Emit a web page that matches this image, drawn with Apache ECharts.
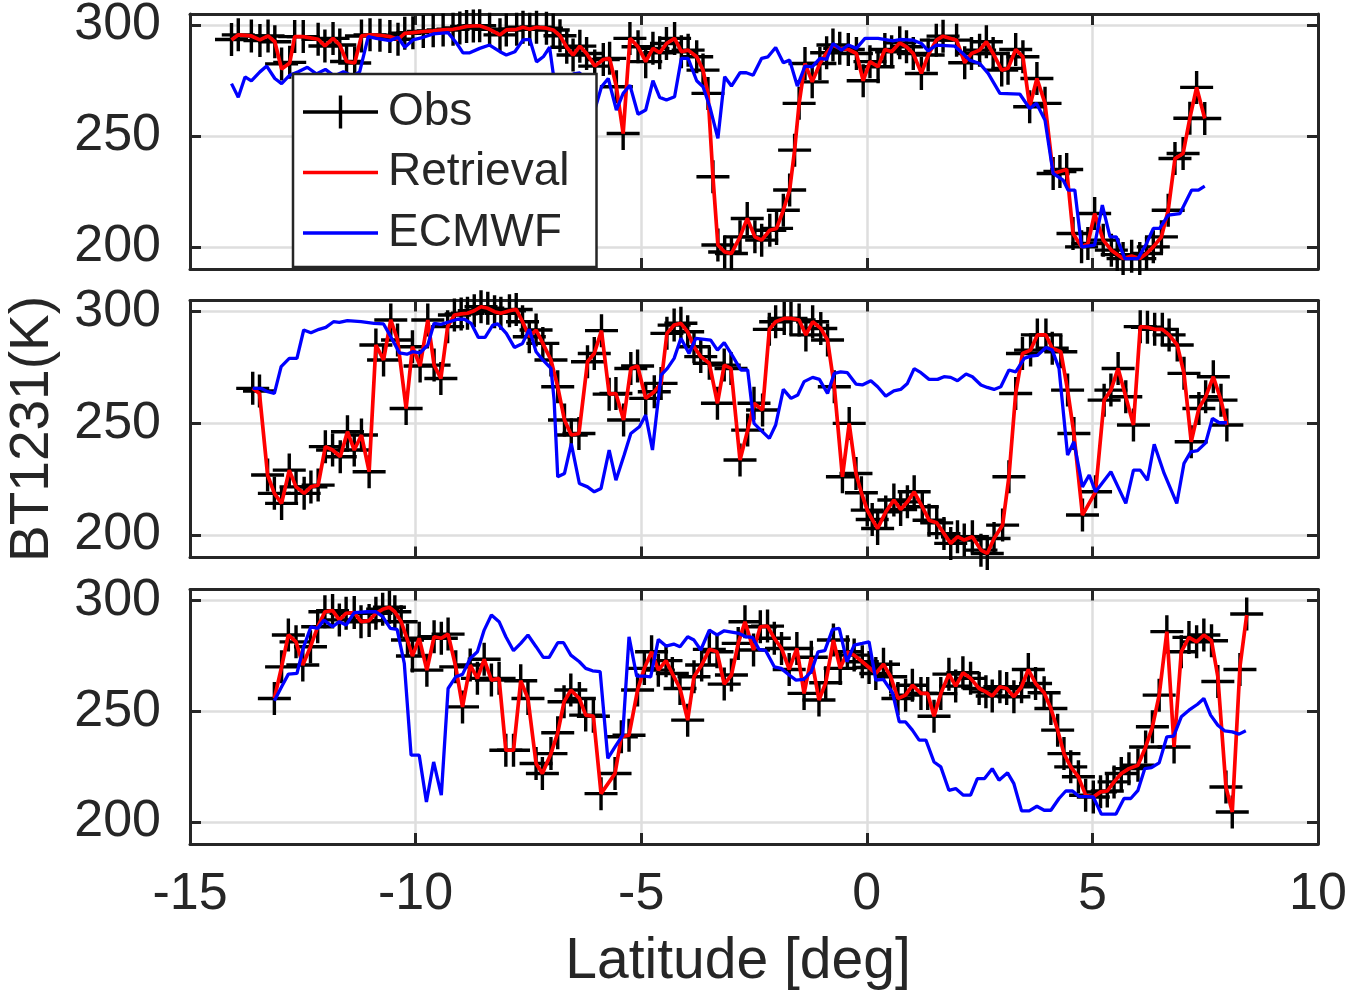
<!DOCTYPE html>
<html>
<head>
<meta charset="utf-8">
<script src="https://cdn.jsdelivr.net/npm/echarts@6/dist/echarts.min.js"></script>
<style>
html,body{margin:0;padding:0;background:#fff;}
#chart{width:1355px;height:996px;}
</style>
</head>
<body>
<div id="chart"></div>
<script>
// ---------- data ----------
const xTicks = [-15, -10, -5, 0, 5, 10];
const yTicks = [200, 250, 300];

// Panel 1
const lat1 = [-14.08,-13.93,-13.64,-13.45,-13.27,-13.12,-12.97,-12.79,-12.68,-12.49,-12.16,-12.01,-11.83,-11.68,-11.53,-11.35,-11.20,-11.01,-10.79,-10.57,-10.39,-10.24,-10.06,-9.83,-9.61,-9.39,-9.17,-9.02,-8.87,-8.72,-8.58,-8.36,-8.13,-7.99,-7.76,-7.62,-7.47,-7.32,-7.10,-6.95,-6.80,-6.65,-6.51,-6.36,-6.21,-6.03,-5.84,-5.70,-5.55,-5.40,-5.25,-5.07,-4.90,-4.74,-4.59,-4.44,-4.26,-4.11,-3.96,-3.77,-3.63,-3.52,-3.41,-3.30,-3.15,-3.00,-2.81,-2.65,-2.48,-2.33,-2.15,-2.00,-1.85,-1.71,-1.60,-1.50,-1.37,-1.21,-1.04,-0.89,-0.75,-0.60,-0.41,-0.23,-0.08,0.07,0.25,0.40,0.55,0.73,0.88,1.03,1.21,1.36,1.54,1.69,1.99,2.17,2.32,2.50,2.65,2.80,2.99,3.13,3.30,3.46,3.61,3.77,3.95,4.13,4.28,4.43,4.57,4.76,4.90,5.05,5.24,5.42,5.55,5.68,5.87,6.05,6.20,6.35,6.53,6.68,6.83,7.01,7.16,7.31,7.49];
const ret1 = [293.3,295.6,295.1,293.3,295.1,292.5,280.2,282.9,294.8,294.8,293.6,290.6,294.0,291.0,283.6,282.9,295.1,295.6,295.4,294.8,293.6,296.3,296.6,297.1,297.4,297.8,298.1,298.7,299.4,299.6,299.7,298.1,295.6,297.8,298.1,299.0,298.1,299.0,298.6,297.8,295.2,290.0,286.5,290.5,287.2,281.5,284.5,285.0,272.2,251.1,294.0,290.2,283.5,289.5,287.5,291.7,294.0,288.0,288.7,285.7,279.7,269.2,231.6,200.8,197.7,197.0,204.5,212.8,204.5,203.0,207.5,208.3,216.5,225.6,243.6,264.7,282.7,274.4,282.7,287.5,291.0,289.5,289.0,287.2,274.9,283.5,281.2,289.0,288.0,292.0,290.2,287.2,278.2,286.5,293.2,295.0,293.2,283.0,287.2,288.7,292.5,287.2,279.7,280.5,289.0,285.7,263.2,275.9,264.7,233.1,234.0,234.9,206.0,200.0,201.5,215.0,203.0,198.5,196.5,194.7,195.8,194.7,197.0,200.0,204.5,216.5,239.8,242.1,258.0,271.9,257.9];
const obs1 = [293.5,295.6,295.1,293.0,295.1,292.5,282.5,283.2,294.8,294.8,293.6,290.6,294.0,291.0,283.6,282.9,295.1,295.6,295.4,294.8,293.6,296.3,296.6,297.1,297.4,297.8,298.1,298.7,299.4,299.6,299.7,298.1,295.6,297.8,298.1,299.0,298.1,299.0,298.6,297.8,295.2,290.0,286.5,290.5,287.2,281.5,284.5,285.0,272.2,251.1,294.0,290.2,283.5,289.5,287.5,291.7,294.0,288.0,288.7,285.7,279.7,269.2,231.6,200.8,197.7,197.0,204.5,212.8,204.5,203.0,207.5,208.3,216.5,225.6,243.6,264.7,282.7,274.4,282.7,287.5,291.0,289.5,289.0,287.2,274.9,283.5,281.2,289.0,288.0,292.0,290.2,287.2,278.2,286.5,293.2,295.0,293.2,283.0,287.2,288.7,292.5,287.2,279.7,280.5,289.0,285.7,263.2,275.9,264.7,233.1,234.0,234.9,206.0,200.0,201.5,215.0,203.0,198.5,196.5,194.7,195.8,194.7,197.0,200.0,204.5,216.5,239.8,242.1,258.0,271.9,257.9];
const ecLat1 = [-14.08,-13.93,-13.78,-13.64,-13.45,-13.30,-13.12,-12.97,-12.79,-12.60,-12.40,-12.20,-12.00,-11.80,-11.60,-11.40,-11.24,-11.05,-10.87,-10.57,-10.39,-10.24,-10.06,-9.83,-9.61,-9.28,-9.09,-8.95,-8.80,-8.58,-8.36,-8.13,-7.99,-7.80,-7.62,-7.47,-7.32,-7.17,-7.03,-6.95,-6.80,-6.65,-6.50,-6.36,-6.20,-6.03,-5.88,-5.73,-5.55,-5.40,-5.25,-5.07,-4.90,-4.74,-4.59,-4.44,-4.26,-4.11,-3.96,-3.77,-3.63,-3.48,-3.30,-3.15,-3.00,-2.81,-2.67,-2.52,-2.33,-2.19,-2.02,-1.85,-1.71,-1.54,-1.37,-1.21,-1.04,-0.89,-0.75,-0.56,-0.41,-0.23,-0.04,0.25,0.58,0.73,1.03,1.21,1.36,1.54,1.95,2.13,2.28,2.50,2.69,2.95,3.39,3.61,3.76,3.95,4.13,4.35,4.46,4.61,4.76,5.05,5.22,5.39,5.53,5.72,6.01,6.20,6.35,6.49,6.68,6.94,7.20,7.35,7.49];
const ec1 = [273.6,267.5,276.6,274.8,278.9,281.5,275.9,273.6,277.4,279.0,281.0,278.0,280.0,277.0,279.0,277.0,278.9,294.8,294.0,293.0,294.5,290.0,293.3,294.5,296.0,296.6,291.8,287.5,287.5,289.5,291.0,288.0,286.5,288.0,293.3,293.6,283.4,285.7,290.0,278.1,276.0,272.0,278.0,278.5,268.0,261.7,272.2,275.9,261.7,269.2,272.9,259.8,261.7,274.9,267.4,266.2,267.7,285.0,285.0,274.9,272.2,263.2,248.9,276.7,272.5,278.5,278.5,277.4,285.0,285.7,289.9,283.0,284.2,272.5,281.5,281.2,285.0,284.5,291.7,288.7,291.0,289.5,294.0,294.0,292.9,293.5,293.2,291.7,288.4,291.0,290.5,287.2,284.2,282.7,278.2,269.2,268.9,262.4,264.7,257.1,233.1,230.1,225.6,225.6,200.0,200.8,218.8,204.5,204.5,194.7,194.7,201.5,208.3,208.3,214.3,215.0,225.6,225.6,227.4];

// Panel 2
const lat2 = [-13.61,-13.46,-13.28,-13.13,-12.97,-12.80,-12.65,-12.47,-12.32,-12.16,-12.00,-11.84,-11.67,-11.51,-11.36,-11.20,-11.03,-10.88,-10.71,-10.55,-10.40,-10.21,-10.07,-9.90,-9.73,-9.59,-9.44,-9.29,-9.14,-8.99,-8.85,-8.70,-8.55,-8.40,-8.25,-8.11,-7.92,-7.77,-7.63,-7.48,-7.33,-7.18,-7.00,-6.85,-6.70,-6.55,-6.38,-6.19,-6.04,-5.88,-5.71,-5.56,-5.39,-5.23,-5.08,-4.90,-4.71,-4.56,-4.43,-4.27,-4.12,-3.97,-3.83,-3.68,-3.49,-3.31,-3.16,-3.01,-2.81,-2.64,-2.50,-2.31,-2.16,-2.02,-1.83,-1.68,-1.50,-1.35,-1.20,-1.02,-0.87,-0.72,-0.54,-0.39,-0.24,-0.12,0.01,0.12,0.24,0.42,0.60,0.75,0.90,1.05,1.23,1.38,1.55,1.71,1.86,2.01,2.16,2.34,2.53,2.67,2.82,3.01,3.15,3.30,3.45,3.63,3.78,3.97,4.11,4.30,4.45,4.59,4.78,5.07,5.26,5.41,5.57,5.74,5.91,6.06,6.22,6.38,6.55,6.70,6.88,7.03,7.19,7.36,7.51,7.68,7.85,7.98];
const ret2 = [265.7,263.4,226.9,218.7,214.2,229.1,221.6,218.7,221.6,222.4,239.6,238.1,235.1,246.3,238.1,244.8,228.4,285.1,278.4,296.3,287.3,256.7,284.3,275.7,296.3,276.1,270.1,293.3,298.5,299.0,299.3,300.4,302.2,301.5,300.0,299.3,300.4,301.0,295.5,288.8,291.8,285.8,278.4,266.4,251.5,244.8,245.5,277.6,281.3,291.5,263.1,263.4,251.5,274.6,275.7,261.2,264.2,267.9,290.3,294.0,294.8,291.0,284.3,279.9,276.9,259.0,276.1,274.6,233.6,247.0,259.0,256.0,292.1,295.5,297.0,297.0,296.3,289.6,295.5,292.5,287.3,266.4,226.1,250.0,227.6,219.0,211.2,207.0,203.0,210.4,215.7,211.5,214.9,219.4,212.7,206.7,205.5,200.7,196.3,199.3,197.8,199.3,193.3,191.8,198.5,204.5,226.1,263.4,281.3,282.8,289.6,289.6,283.6,282.1,264.9,245.5,209.0,219.4,260.4,264.9,274.6,261.9,249.3,293.3,293.0,292.1,292.1,289.6,285.1,272.4,241.8,256.7,261.9,270.9,260.4,249.3];
const obs2 = [265.7,264.5,226.9,218.7,214.2,229.1,221.6,218.7,221.6,222.4,239.6,238.1,235.1,246.3,238.1,244.8,228.4,285.1,278.4,296.3,287.3,256.7,284.3,275.7,296.3,276.1,270.1,293.3,298.5,299.0,299.3,300.4,302.2,301.5,300.0,299.3,300.4,301.0,295.5,288.8,291.8,285.8,278.4,266.4,251.5,244.8,245.5,277.6,281.3,291.5,263.1,263.4,251.5,274.6,275.7,261.2,264.2,267.9,290.3,294.0,294.8,291.0,284.3,279.9,276.9,259.0,276.1,274.6,233.6,247.0,259.0,256.0,292.1,295.5,297.0,297.0,296.3,289.6,295.5,292.5,287.3,266.4,226.1,250.0,227.6,219.0,211.2,207.0,203.0,210.4,215.7,211.5,214.9,219.4,212.7,206.7,205.5,200.7,196.3,199.3,197.8,199.3,193.3,191.8,198.5,204.5,226.1,263.4,281.3,282.8,289.6,289.6,283.6,282.1,264.9,245.5,209.0,219.4,260.4,264.9,274.6,261.9,249.3,293.3,293.0,292.1,292.1,289.6,285.1,272.4,241.8,256.7,261.9,270.9,260.4,249.3];
const ecLat2 = [-13.61,-13.43,-13.28,-13.13,-12.98,-12.80,-12.63,-12.48,-12.32,-12.14,-11.99,-11.82,-11.69,-11.51,-11.21,-10.92,-10.71,-10.55,-10.36,-10.19,-10.07,-9.90,-9.73,-9.59,-9.44,-9.25,-9.07,-8.92,-8.77,-8.61,-8.46,-8.29,-8.18,-7.99,-7.81,-7.63,-7.48,-7.33,-7.18,-7.00,-6.93,-6.85,-6.70,-6.55,-6.37,-6.19,-6.04,-5.89,-5.71,-5.56,-5.38,-5.23,-5.04,-4.90,-4.75,-4.56,-4.42,-4.27,-4.12,-3.94,-3.79,-3.46,-3.31,-3.16,-3.01,-2.79,-2.64,-2.50,-2.35,-2.16,-2.02,-1.85,-1.68,-1.53,-1.39,-1.20,-1.05,-0.87,-0.72,-0.58,-0.43,-0.24,-0.10,0.09,0.24,0.42,0.60,0.75,0.90,1.05,1.20,1.38,1.57,1.71,1.86,2.01,2.20,2.34,2.53,2.67,2.82,2.97,3.15,3.30,3.49,3.63,3.78,3.97,4.11,4.26,4.45,4.59,4.78,4.93,5.07,5.41,5.74,5.91,6.06,6.22,6.37,6.59,6.87,7.03,7.18,7.33,7.51,7.66,7.81,7.98];
const ec2 = [265.7,265.7,264.2,263.4,275.4,279.1,279.1,291.8,290.6,292.1,293.0,295.5,295.2,296.0,295.5,294.8,294.5,288.8,281.6,281.0,282.1,281.6,285.1,294.8,294.3,295.5,296.6,296.6,294.8,288.5,288.5,294.0,294.5,290.3,284.0,285.8,292.1,282.1,278.4,274.6,260.4,226.1,227.6,241.0,223.1,221.6,219.4,220.9,238.1,224.6,235.8,245.5,248.5,253.7,238.1,271.6,274.6,279.1,288.1,281.3,288.1,287.3,282.8,286.1,281.3,273.9,273.9,250.0,247.0,243.3,249.3,265.2,261.2,262.7,268.7,270.6,269.7,263.4,272.4,273.1,272.7,267.6,267.2,269.1,266.4,262.2,264.6,265.2,267.9,274.5,272.7,269.7,269.7,270.9,270.6,269.1,272.1,270.9,267.2,266.1,265.2,266.4,273.9,273.1,279.1,280.1,280.4,284.0,282.8,274.6,235.8,241.8,221.6,226.9,219.4,228.4,214.2,229.1,229.1,224.6,240.7,227.6,214.2,232.1,237.3,237.8,241.3,252.2,250.3,250.3];

// Panel 3
const lat3 = [-13.13,-12.97,-12.82,-12.65,-12.50,-12.33,-12.17,-12.01,-11.84,-11.69,-11.54,-11.36,-11.21,-11.03,-10.88,-10.73,-10.58,-10.46,-10.32,-10.18,-10.07,-9.92,-9.75,-9.59,-9.43,-9.28,-9.11,-8.96,-8.79,-8.63,-8.48,-8.32,-8.15,-8.00,-7.83,-7.67,-7.51,-7.33,-7.19,-7.00,-6.85,-6.71,-6.56,-6.37,-6.23,-6.06,-5.89,-5.58,-5.44,-5.27,-5.08,-4.93,-4.77,-4.62,-4.45,-4.31,-4.14,-3.97,-3.83,-3.66,-3.49,-3.32,-3.16,-3.00,-2.85,-2.70,-2.51,-2.36,-2.20,-2.05,-1.89,-1.72,-1.55,-1.39,-1.23,-1.06,-0.91,-0.74,-0.59,-0.43,-0.28,-0.10,0.05,0.20,0.37,0.53,0.69,0.86,1.01,1.20,1.35,1.49,1.64,1.82,1.97,2.13,2.30,2.49,2.64,2.78,2.95,3.10,3.26,3.43,3.58,3.74,3.93,4.08,4.23,4.37,4.52,4.69,4.85,5.02,5.18,5.33,5.48,5.64,5.81,6.01,6.18,6.33,6.48,6.65,6.81,6.97,7.14,7.31,7.47,7.64,7.78,7.96,8.10,8.27,8.42];
const ret3 = [255.8,270.1,284.5,281.4,270.9,279.2,288.2,295.0,295.5,291.3,294.3,294.6,290.5,291.0,294.3,296.1,297.0,295.0,290.5,282.2,275.0,283.0,268.6,283.7,283.0,284.9,270.1,252.0,270.9,264.9,273.5,264.1,264.9,232.4,232.4,263.8,255.8,226.4,221.9,230.9,240.3,254.3,259.6,255.8,248.3,247.8,212.8,221.9,238.5,239.2,259.6,269.4,276.9,268.6,272.9,267.1,260.3,246.0,265.6,270.9,278.0,276.9,262.3,266.4,280.7,290.5,277.7,288.2,288.5,283.0,278.4,268.9,278.4,258.1,274.4,255.1,262.9,282.2,269.4,276.9,275.4,272.4,269.8,267.1,271.3,265.6,255.8,257.3,261.8,258.1,258.1,247.8,258.0,266.8,261.4,267.4,264.9,260.3,258.8,256.9,261.1,260.3,256.6,261.1,268.9,262.6,258.4,251.3,241.5,230.9,224.9,220.4,212.1,211.3,213.6,214.0,218.1,221.9,224.1,225.6,233.9,243.0,257.3,286.0,233.9,276.9,283.4,281.4,284.5,281.9,265.6,215.8,204.5,270.1,293.5];
const obs3 = [255.8,270.1,284.5,281.4,270.9,279.2,288.2,295.0,295.5,291.3,294.3,294.6,290.5,291.0,294.3,296.1,297.0,295.0,290.5,282.2,275.0,283.0,268.6,283.7,283.0,284.9,270.1,252.0,270.9,264.9,273.5,264.1,264.9,232.4,232.4,263.8,255.8,226.4,221.9,230.9,240.3,254.3,259.6,255.8,248.3,247.8,212.8,221.9,238.5,239.2,259.6,269.4,276.9,268.6,272.9,267.1,260.3,246.0,265.6,270.9,278.0,276.9,262.3,266.4,280.7,290.5,277.7,288.2,288.5,283.0,278.4,268.9,278.4,258.1,274.4,255.1,262.9,282.2,269.4,276.9,275.4,272.4,269.8,267.1,271.3,265.6,255.8,257.3,261.8,258.1,258.1,247.8,258.0,266.8,261.4,267.4,264.9,260.3,258.8,256.9,261.1,260.3,256.6,261.1,268.9,262.6,258.4,251.3,241.5,230.9,224.9,220.4,212.1,211.3,213.6,214.0,218.1,221.9,224.1,225.6,233.9,243.0,257.3,286.0,233.9,276.9,283.4,281.4,284.5,281.9,263.5,215.8,204.5,268.9,294.0];
const ecLat3 = [-13.13,-12.97,-12.82,-12.63,-12.48,-12.32,-12.17,-12.03,-11.84,-11.69,-11.54,-11.36,-11.07,-10.88,-10.73,-10.56,-10.41,-10.25,-10.10,-9.92,-9.76,-9.60,-9.43,-9.28,-9.11,-8.96,-8.79,-8.63,-8.48,-8.32,-8.15,-8.00,-7.83,-7.67,-7.51,-7.33,-7.17,-7.04,-6.85,-6.72,-6.56,-6.37,-6.23,-6.08,-5.91,-5.74,-5.58,-5.41,-5.27,-5.10,-4.93,-4.79,-4.62,-4.45,-4.28,-4.14,-3.97,-3.83,-3.68,-3.49,-3.32,-3.16,-2.83,-2.68,-2.53,-2.39,-2.24,-2.05,-1.90,-1.72,-1.57,-1.40,-1.23,-1.08,-0.93,-0.76,-0.61,-0.44,-0.28,-0.10,0.05,0.20,0.37,0.57,0.72,0.86,1.01,1.16,1.31,1.49,1.64,1.82,1.97,2.14,2.30,2.45,2.61,2.78,2.93,3.12,3.26,3.43,3.60,3.77,3.93,4.08,4.26,4.41,4.56,4.70,5.02,5.20,5.52,5.70,5.85,6.01,6.16,6.31,6.48,6.65,6.80,6.97,7.14,7.33,7.47,7.62,7.78,7.93,8.10,8.25,8.40];
const ec3 = [254.8,261.1,266.8,267.1,279.2,288.2,287.5,291.3,288.2,290.5,289.0,294.6,295.0,295.0,292.8,287.5,287.0,271.6,230.2,230.2,209.0,227.1,212.1,260.3,265.6,266.7,273.9,276.9,286.7,293.5,290.5,283.7,277.4,280.7,284.5,279.2,274.4,274.4,281.0,281.0,275.4,272.4,269.4,268.3,267.9,228.7,233.9,239.2,283.7,265.9,265.9,265.6,282.5,279.5,280.4,279.2,283.7,282.2,277.7,286.7,284.5,286.4,285.2,283.7,283.4,278.0,277.4,270.1,269.4,266.4,264.1,264.4,267.9,276.9,277.4,287.0,287.5,272.4,279.9,280.7,281.4,264.1,264.4,258.4,245.2,245.2,241.5,237.0,237.0,227.1,224.9,214.3,215.1,212.1,212.1,219.6,219.6,224.1,218.9,222.2,217.3,205.0,205.0,207.1,205.3,205.3,210.6,214.0,214.0,211.6,211.3,203.5,203.5,210.6,210.6,214.3,224.1,224.6,226.7,238.5,238.8,247.5,250.5,253.2,255.8,248.3,243.7,241.2,240.7,239.7,241.2];

// ---------- chart ----------
const FONT = 'Liberation Sans';
const INK = '#262626';
const GRIDC = '#dedede';
const pair = (xs, ys) => xs.map((x, i) => [x, ys[i]]);

const panels = [
  {lat: lat1, obs: obs1, ret: ret1, ecLat: ecLat1, ec: ec1},
  {lat: lat2, obs: obs2, ret: ret2, ecLat: ecLat2, ec: ec2},
  {lat: lat3, obs: obs3, ret: ret3, ecLat: ecLat3, ec: ec3}
];
const grids = [
  {left: 190, width: 1128, top: 14, height: 255, containLabel: false, outerBoundsMode: 'none'},
  {left: 190, width: 1128, top: 300.5, height: 257, containLabel: false, outerBoundsMode: 'none'},
  {left: 190, width: 1128, top: 589.6, height: 254.5, containLabel: false, outerBoundsMode: 'none'}
];

const lineSt = {color: INK, width: 3};
const tickSt = {show: true, inside: true, length: 11, lineStyle: {color: INK, width: 3}};
const xAxes = [], yAxes = [], series = [];

const plusSym = 'path://M0,14.8 L33,14.8 L33,18.2 L0,18.2 Z M14.8,0 L18.2,0 L18.2,33 L14.8,33 Z';
const obsIcon = 'path://M80,0 L79.95,0 L79.95,0.05 Z M0,14.8 L75,14.8 L75,18.2 L0,18.2 Z M35.8,0 L39.2,0 L39.2,33 L35.8,33 Z';
const lineIcon = 'path://M0,0 L0.05,0 L0.05,0.05 Z M80,33 L79.95,33 L79.95,32.95 Z M0,14.8 L75,14.8 L75,18.2 L0,18.2 Z';

panels.forEach((p, i) => {
  const last = i === 2;
  xAxes.push({
    gridIndex: i, type: 'value', min: xTicks[0], max: xTicks[xTicks.length - 1], interval: 5,
    position: 'bottom',
    axisLine: {show: true, onZero: false, lineStyle: lineSt},
    axisTick: tickSt,
    axisLabel: {show: last, fontSize: 52, fontFamily: FONT, color: INK, margin: 25},
    splitLine: {show: true, lineStyle: {color: GRIDC, width: 2.5}},
    name: last ? 'Latitude [deg]' : '',
    nameLocation: 'middle', nameGap: 90,
    nameTextStyle: {fontSize: 57, fontFamily: FONT, color: INK, padding: [0, 32, 0, 0]}
  });
  xAxes.push({
    gridIndex: i, type: 'value', min: xTicks[0], max: xTicks[xTicks.length - 1], interval: 5,
    position: 'top',
    axisLine: {show: true, onZero: false, lineStyle: lineSt},
    axisTick: tickSt,
    axisLabel: {show: false},
    splitLine: {show: false}
  });
  yAxes.push({
    gridIndex: i, type: 'value', min: 190, max: 305, position: 'left',
    axisLine: {show: true, onZero: false, lineStyle: lineSt},
    axisTick: Object.assign({customValues: yTicks}, tickSt),
    axisLabel: {customValues: yTicks, fontSize: 52, fontFamily: FONT, color: INK, margin: 29},
    splitLine: {show: true, lineStyle: {color: GRIDC, width: 2.5}},
    name: i === 1 ? 'BT1231(K)' : '',
    nameLocation: 'middle', nameRotate: 90, nameGap: 130,
    nameTextStyle: {fontSize: 55, fontFamily: FONT, color: INK}
  });
  yAxes.push({
    gridIndex: i, type: 'value', min: 190, max: 305, position: 'right',
    axisLine: {show: true, onZero: false, lineStyle: lineSt},
    axisTick: Object.assign({customValues: yTicks}, tickSt),
    axisLabel: {show: false},
    splitLine: {show: false}
  });
  series.push({
    name: 'Obs', type: 'scatter', xAxisIndex: 2 * i, yAxisIndex: 2 * i,
    data: pair(p.lat, p.obs), symbol: plusSym, symbolSize: [33, 33],
    itemStyle: {color: '#000', opacity: 1}, silent: true, z: 2
  });
  series.push({
    name: 'Retrieval', type: 'line', xAxisIndex: 2 * i, yAxisIndex: 2 * i,
    data: pair(p.lat, p.ret), showSymbol: false, symbol: 'none',
    lineStyle: {color: '#ff0000', width: 3.7}, itemStyle: {color: '#ff0000'}, silent: true, z: 3
  });
  series.push({
    name: 'ECMWF', type: 'line', xAxisIndex: 2 * i, yAxisIndex: 2 * i,
    data: pair(p.ecLat, p.ec), showSymbol: false, symbol: 'none',
    lineStyle: {color: '#0000ff', width: 3.3}, itemStyle: {color: '#0000ff'}, silent: true, z: 4
  });
});

const chart = echarts.init(document.getElementById('chart'), null, {renderer: 'canvas'});
chart.setOption({
  animation: false,
  backgroundColor: '#ffffff',
  grid: grids,
  xAxis: xAxes,
  yAxis: yAxes,
  legend: {
    data: [
      {name: 'Obs', icon: obsIcon},
      {name: 'Retrieval', icon: lineIcon},
      {name: 'ECMWF', icon: lineIcon}
    ],
    orient: 'vertical', left: 293, top: 74,
    itemWidth: 80, itemHeight: 33, itemGap: 10.5,
    padding: [13, 27, 9, 10],
    backgroundColor: '#ffffff', borderColor: INK, borderWidth: 2.5,
    selectedMode: false, z: 10,
    itemStyle: {borderWidth: 0},
    textStyle: {fontSize: 46, fontFamily: FONT, color: INK, lineHeight: 50}
  },
  series: series
});
</script>
</body>
</html>
